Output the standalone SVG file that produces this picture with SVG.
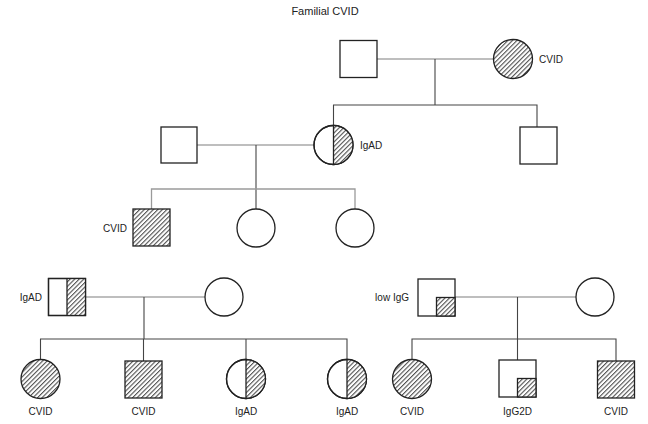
<svg xmlns="http://www.w3.org/2000/svg" width="648" height="424" viewBox="0 0 648 424">
<style>
text{font-family:"Liberation Sans",Arial,sans-serif;font-size:10px;fill:#222}
.t{font-size:11px}
.m{text-anchor:middle}
.e{text-anchor:end}
.s{fill:#fff;stroke:#222;stroke-width:1.3}
.h{fill:url(#hatch);stroke:#222;stroke-width:1.3}
.hn{fill:url(#hatch);stroke:none}
.d{stroke:#222;stroke-width:1.3;fill:none}
.mar{stroke:#a8a8a8;stroke-width:1.6;fill:none}
.dl{stroke:#444;stroke-width:1.1;fill:none}
.gl{stroke:#9a9a9a;stroke-width:1.3;fill:none}
</style>
<defs>
<pattern id="hatch" patternUnits="userSpaceOnUse" width="3.2" height="3.2" patternTransform="rotate(45)">
<rect width="3.2" height="3.2" fill="#fff"/>
<line x1="0.6" y1="0" x2="0.6" y2="3.2" stroke="#2a2a2a" stroke-width="0.9"/>
</pattern>
</defs>
<text class="t m" x="325" y="15">Familial CVID</text>
<g id="connectors">
<line class="mar" x1="377" y1="59" x2="493.5" y2="59"/>
<line class="dl" x1="435" y1="59" x2="435" y2="105"/>
<polyline class="dl" points="333.5,125.5 333.5,105 537,105 537,127"/>
<line class="mar" x1="197" y1="145" x2="314" y2="145"/>
<line class="dl" x1="256" y1="145" x2="256" y2="209"/>
<polyline class="gl" points="151.5,209 151.5,189 355,189 355,209"/>
<line class="mar" x1="86" y1="297" x2="205" y2="297"/>
<line class="dl" x1="144" y1="297" x2="144" y2="339"/>
<polyline class="dl" points="40.5,359.5 40.5,339 347,339 347,359.5"/>
<line class="dl" x1="143.5" y1="339" x2="143.5" y2="361"/>
<line class="dl" x1="246" y1="339" x2="246" y2="359.5"/>
<line class="mar" x1="455" y1="297" x2="576" y2="297"/>
<line class="dl" x1="517.5" y1="297" x2="517.5" y2="360"/>
<polyline class="dl" points="412,359.5 412,339 616,339 616,361"/>
</g>
<g id="I-1"><rect class="s" x="340" y="40.5" width="37" height="37"/></g>
<g id="I-2"><circle class="h" cx="513" cy="59" r="19.5"/><text x="539" y="62.5">CVID</text></g>
<g id="II-1"><rect class="s" x="161" y="127" width="36" height="36"/></g>
<g id="II-2"><circle class="s" cx="333.5" cy="145" r="19.5"/><path class="hn" d="M333.5,125.5 A19.5,19.5 0 0 1 333.5,164.5 Z"/><circle class="d" cx="333.5" cy="145" r="19.5"/><line class="d" x1="333.5" y1="125.5" x2="333.5" y2="164.5"/><text x="360" y="148.5">IgAD</text></g>
<g id="II-3"><rect class="s" x="520" y="127" width="37" height="37"/></g>
<g id="III-1"><rect class="h" x="133" y="209" width="37" height="37"/><text class="e" x="127" y="231.5">CVID</text></g>
<g id="III-2"><circle class="s" cx="256" cy="228" r="19"/></g>
<g id="III-3"><circle class="s" cx="355" cy="228" r="19"/></g>
<g id="IV-1"><rect class="s" x="48.5" y="278.5" width="37" height="37"/><rect class="hn" x="67" y="278.5" width="18.5" height="37"/><rect class="d" x="48.5" y="278.5" width="37" height="37"/><line class="d" x1="67" y1="278.5" x2="67" y2="315.5"/><text class="e" x="42" y="300.5">IgAD</text></g>
<g id="IV-2"><circle class="s" cx="224" cy="297" r="19"/></g>
<g id="IV-3"><rect class="s" x="418" y="279" width="37" height="37"/><rect class="h" x="436.5" y="297.5" width="18.5" height="18.5"/><text class="e" x="409" y="300.5">low IgG</text></g>
<g id="IV-4"><circle class="s" cx="595" cy="297" r="19"/></g>
<g id="V-1"><circle class="h" cx="40.5" cy="379" r="19.5"/><text class="m" x="40.5" y="414.5">CVID</text></g>
<g id="V-2"><rect class="h" x="125" y="361" width="37" height="37"/><text class="m" x="143.5" y="414.5">CVID</text></g>
<g id="V-3"><circle class="s" cx="246" cy="379" r="19.5"/><path class="hn" d="M246,359.5 A19.5,19.5 0 0 1 246,398.5 Z"/><circle class="d" cx="246" cy="379" r="19.5"/><line class="d" x1="246" y1="359.5" x2="246" y2="398.5"/><text class="m" x="246" y="414.5">IgAD</text></g>
<g id="V-4"><circle class="s" cx="347" cy="379" r="19.5"/><path class="hn" d="M347,359.5 A19.5,19.5 0 0 1 347,398.5 Z"/><circle class="d" cx="347" cy="379" r="19.5"/><line class="d" x1="347" y1="359.5" x2="347" y2="398.5"/><text class="m" x="347" y="414.5">IgAD</text></g>
<g id="V-5"><circle class="h" cx="412" cy="379" r="19.5"/><text class="m" x="412" y="414.5">CVID</text></g>
<g id="V-6"><rect class="s" x="499" y="360" width="37" height="37"/><rect class="h" x="517.5" y="378.5" width="18.5" height="18.5"/><text class="m" x="517.5" y="414.5">IgG2D</text></g>
<g id="V-7"><rect class="h" x="597.5" y="361" width="37" height="37"/><text class="m" x="616" y="414.5">CVID</text></g>
</svg>
